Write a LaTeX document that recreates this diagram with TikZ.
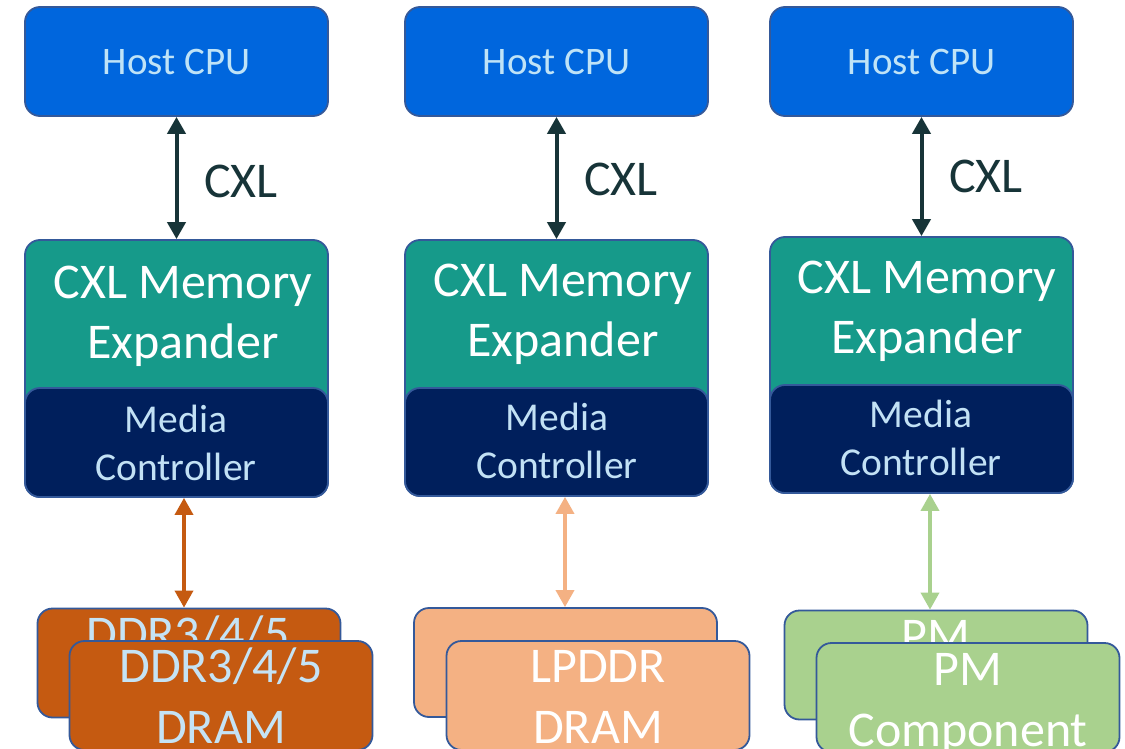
\documentclass[tikz,border=0pt]{standalone}
\usepackage{fontspec}
\setmainfont{Carlito}
\usetikzlibrary{arrows.meta}
\definecolor{cpublue}{HTML}{0066DD}
\definecolor{cputxt}{HTML}{BFE3F7}
\definecolor{teal1}{HTML}{169A8A}
\definecolor{navy1}{HTML}{001F5C}
\definecolor{mctxt}{HTML}{C2E1F5}
\definecolor{bordc}{HTML}{34599A}
\definecolor{cxldark}{HTML}{173438}
\definecolor{ddrorange}{HTML}{C55A11}
\definecolor{lporange}{HTML}{F4B183}
\definecolor{pmgreen}{HTML}{A9D18E}
\definecolor{ddrtxt}{HTML}{C5E3F5}
\tikzset{
  box/.style={rectangle, rounded corners=15pt, draw=bordc, line width=1.8pt, inner sep=0pt, minimum width=303pt},
  cpubox/.style={box, fill=cpublue, minimum height=109pt, text=cputxt, font=\fontsize{39}{47}\selectfont},
  expbox/.style={box, fill=teal1, minimum height=257pt},
  mcbox/.style={box, fill=navy1, minimum height=109pt},
  membox/.style={box, minimum height=109pt},
  txtL/.style={anchor=base, inner sep=0pt, font=\fontsize{50}{60}\selectfont},
  txtS/.style={anchor=base, inner sep=0pt, font=\fontsize{39.5}{47}\selectfont, text=mctxt},
  link/.style={line width=4pt, {Triangle[width=18pt,length=17pt]}-{Triangle[width=18pt,length=17pt]}},
}
\begin{document}
\begin{tikzpicture}[x=1pt,y=-1pt]
\useasboundingbox (0,0) rectangle (1125,749);
\clip (0,0) rectangle (1125,749);
\fill[white] (0,0) rectangle (1125,749);

% ---------- Column 1 ----------
\node[cpubox] (cpu1) at (176.5,61.5) {Host CPU};
\node[expbox] (exp1) at (176.5,368.5) {};
\node[mcbox] (mc1) at (176.5,442.5) {};
\node[txtL, text=white] (e1a) at (183,298) {CXL Memory};
\node[txtL, text=white] (e1b) at (183,358) {Expander};
\node[txtS] (m1a) at (176,432) {Media};
\node[txtS] (m1b) at (176,480) {Controller};
\draw[link, cxldark] (cpu1.south) -- (exp1.north);
\node[txtL, anchor=base west, text=cxldark] (cxl1) at (204,197) {CXL};
\node[membox, fill=ddrorange] (back1) at (189,663) {};
\node[txtL, text=ddrtxt] (b1a) at (188,650) {DDR3/4/5};
\node[membox, fill=ddrorange] (front1) at (221,695.5) {};
\node[txtL, text=ddrtxt] (f1a) at (221,682) {DDR3/4/5};
\node[txtL, text=ddrtxt] (f1b) at (221,743) {DRAM};
\coordinate (o1) at (184,0);
\draw[link, ddrorange, line width=3.6pt] (o1 |- mc1.south) -- (o1 |- back1.north);

% ---------- Column 2 ----------
\node[cpubox] (cpu2) at (556.5,61.5) {Host CPU};
\node[expbox, minimum height=256pt] (exp2) at (556.5,368) {};
\node[mcbox, minimum height=108pt] (mc2) at (556.5,442) {};
\node[txtL, text=white] (e2a) at (563,296) {CXL Memory};
\node[txtL, text=white] (e2b) at (563,356) {Expander};
\node[txtS] (m2a) at (557,430) {Media};
\node[txtS] (m2b) at (557,478) {Controller};
\draw[link, cxldark] (cpu2.south) -- (exp2.north);
\node[txtL, anchor=base west, text=cxldark] (cxl2) at (584,196) {CXL};
\node[membox, fill=lporange] (back2) at (565.5,662.5) {};
\node[membox, fill=lporange] (front2) at (598,695.5) {};
\node[txtL, text=white] (f2a) at (598,682) {LPDDR};
\node[txtL, text=white] (f2b) at (598,743) {DRAM};
\coordinate (o2) at (565,0);
\draw[link, lporange, line width=3.6pt] (o2 |- mc2.south) -- (o2 |- back2.north);

% ---------- Column 3 ----------
\node[cpubox] (cpu3) at (921.5,61.5) {Host CPU};
\node[expbox, minimum height=256pt] (exp3) at (921.5,365) {};
\node[mcbox, minimum height=108pt] (mc3) at (921.5,439) {};
\node[txtL, text=white] (e3a) at (927,293) {CXL Memory};
\node[txtL, text=white] (e3b) at (927,353) {Expander};
\node[txtS] (m3a) at (921,427) {Media};
\node[txtS] (m3b) at (921,475) {Controller};
\draw[link, cxldark] (cpu3.south) -- (exp3.north);
\node[txtL, anchor=base west, text=cxldark] (cxl3) at (949,193) {CXL};
\node[membox, fill=pmgreen] (back3) at (936,665) {};
\node[txtL, text=white] (b3a) at (935.5,652) {PM};
\node[membox, fill=pmgreen] (front3) at (968,697.5) {};
\node[txtL, text=white] (f3a) at (968,685) {PM};
\node[txtL, text=white] (f3b) at (968,746) {Component};
\coordinate (o3) at (930,0);
\draw[link, pmgreen, line width=3.6pt] (o3 |- mc3.south) -- (o3 |- back3.north);
\end{tikzpicture}
\end{document}
